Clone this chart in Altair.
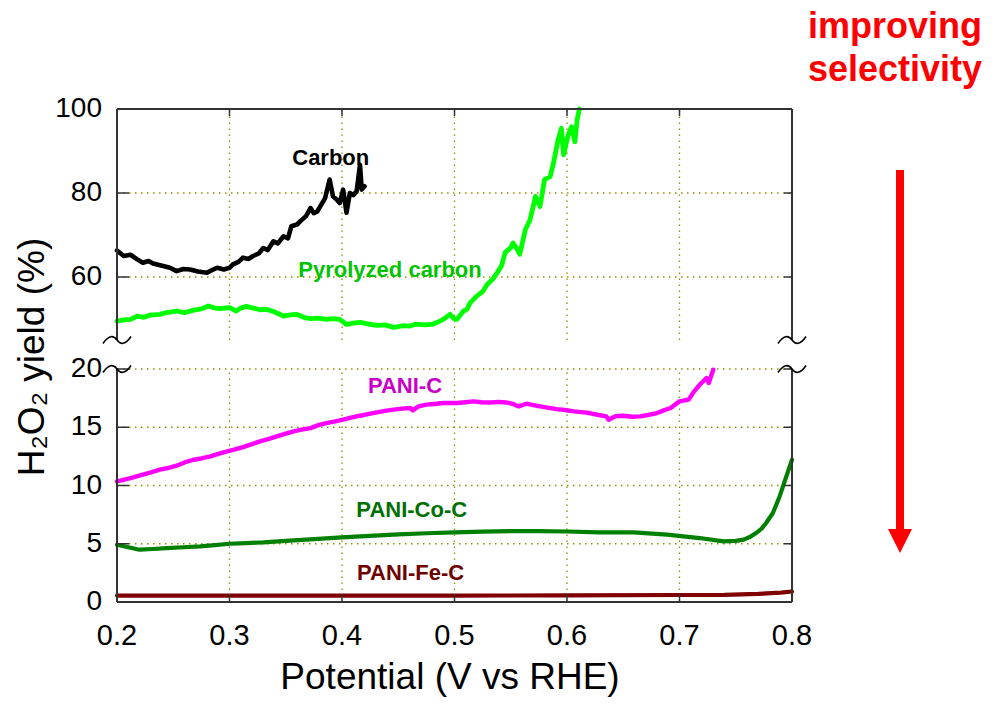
import altair as alt
import pandas as pd

# ---------------- data ----------------
carbon_x = [0.200, 0.206, 0.212, 0.218, 0.223, 0.228, 0.232, 0.241, 0.247, 0.253,
            0.259, 0.265, 0.272, 0.280, 0.284, 0.289, 0.295, 0.300, 0.303, 0.308,
            0.312, 0.317, 0.321, 0.326, 0.330, 0.334, 0.339, 0.343, 0.348, 0.352,
            0.355, 0.360, 0.363, 0.368, 0.372, 0.375, 0.378, 0.382, 0.385, 0.389,
            0.392, 0.395, 0.398, 0.401, 0.404, 0.407, 0.410, 0.413, 0.416, 0.4175, 0.420]
carbon_y = [66.3, 65.0, 65.3, 64.2, 63.4, 63.8, 63.2, 62.6, 62.2, 61.4,
            61.9, 61.8, 61.3, 61.0, 61.6, 62.2, 61.8, 62.2, 63.0, 63.6,
            64.6, 64.3, 65.0, 65.6, 66.9, 66.4, 68.5, 68.0, 69.7, 69.2,
            72.1, 72.5, 73.3, 74.5, 76.4, 75.2, 75.6, 77.4, 78.8, 83.2,
            79.2, 78.5, 77.6, 80.8, 75.3, 80.0, 79.5, 80.4, 86.7, 80.8, 81.6]

pyro_x = [0.200, 0.206, 0.212, 0.218, 0.224, 0.229, 0.238, 0.245, 0.253, 0.260,
          0.268, 0.275, 0.281, 0.287, 0.292, 0.300, 0.306, 0.310, 0.315, 0.321,
          0.327, 0.333, 0.339, 0.344, 0.348, 0.354, 0.360, 0.366, 0.372, 0.379,
          0.386, 0.392, 0.398, 0.404, 0.410, 0.416, 0.424, 0.431, 0.438, 0.446,
          0.455, 0.460, 0.466, 0.474, 0.481, 0.487, 0.490, 0.496, 0.499, 0.502,
          0.508, 0.511, 0.514, 0.520, 0.525, 0.529, 0.534, 0.538, 0.542, 0.545,
          0.550, 0.552, 0.556, 0.558, 0.563, 0.567, 0.570, 0.572, 0.576, 0.580,
          0.585, 0.588, 0.592, 0.595, 0.597, 0.601, 0.604, 0.607, 0.609, 0.611]
pyro_y = [49.5, 49.8, 49.9, 50.7, 50.4, 50.9, 51.1, 51.6, 51.9, 51.5,
          52.1, 52.4, 53.1, 52.6, 52.5, 52.7, 51.9, 52.6, 53.0, 52.6,
          52.2, 52.3, 51.8, 51.2, 50.7, 51.0, 51.1, 50.4, 50.1, 50.2,
          49.9, 50.1, 49.9, 48.7, 49.0, 49.2, 48.8, 48.5, 48.6, 48.0,
          48.4, 48.3, 48.8, 48.6, 48.8, 49.5, 49.9, 51.1, 50.2, 49.9,
          51.9, 52.3, 53.9, 55.5, 56.5, 58.2, 59.5, 61.0, 62.8, 65.8,
          67.0, 68.1, 66.5, 65.4, 71.3, 73.5, 76.8, 79.2, 76.8, 83.2,
          83.9, 87.1, 92.6, 95.4, 89.1, 93.8, 95.8, 92.2, 97.4, 100.0]

panic_x = [0.200, 0.212, 0.223, 0.231, 0.238, 0.245, 0.253, 0.260, 0.268, 0.275,
           0.283, 0.290, 0.298, 0.305, 0.312, 0.320, 0.327, 0.335, 0.342, 0.350,
           0.357, 0.364, 0.372, 0.379, 0.386, 0.394, 0.401, 0.408, 0.416, 0.423,
           0.431, 0.438, 0.446, 0.453, 0.4605, 0.463, 0.468, 0.475, 0.482, 0.490,
           0.502, 0.510, 0.517, 0.524, 0.532, 0.539, 0.546, 0.552, 0.557, 0.564,
           0.570, 0.576, 0.584, 0.591, 0.598, 0.606, 0.613, 0.620, 0.628, 0.635,
           0.637, 0.643, 0.650, 0.658, 0.665, 0.672, 0.680, 0.686, 0.692, 0.700,
           0.708, 0.713, 0.718, 0.724, 0.726, 0.730]
panic_y = [10.35, 10.64, 10.93, 11.15, 11.36, 11.50, 11.70, 11.98, 12.21, 12.32,
           12.50, 12.72, 12.93, 13.10, 13.30, 13.55, 13.79, 14.00, 14.22, 14.45,
           14.64, 14.80, 14.93, 15.18, 15.36, 15.50, 15.65, 15.82, 15.99, 16.12,
           16.28, 16.40, 16.51, 16.60, 16.65, 16.45, 16.80, 16.94, 17.00, 17.08,
           17.08, 17.15, 17.22, 17.15, 17.13, 17.18, 17.13, 17.00, 16.79, 17.02,
           16.90, 16.79, 16.66, 16.56, 16.48, 16.36, 16.30, 16.22, 16.05, 15.93,
           15.65, 15.95, 15.99, 15.90, 15.93, 16.05, 16.22, 16.45, 16.65, 17.22,
           17.37, 18.08, 18.65, 19.23, 18.80, 19.94]

panico_x = [0.200, 0.210, 0.220, 0.232, 0.244, 0.259, 0.274, 0.287, 0.300, 0.315,
            0.330, 0.350, 0.375, 0.400, 0.425, 0.450, 0.475, 0.500, 0.525, 0.550,
            0.575, 0.600, 0.629, 0.659, 0.689, 0.718, 0.739, 0.750, 0.757, 0.763,
            0.768, 0.773, 0.777, 0.783, 0.789, 0.794, 0.800]
panico_y = [4.92, 4.70, 4.49, 4.55, 4.63, 4.70, 4.77, 4.88, 5.00, 5.06,
            5.12, 5.25, 5.40, 5.55, 5.68, 5.80, 5.90, 5.98, 6.04, 6.08,
            6.08, 6.05, 5.97, 5.97, 5.78, 5.49, 5.20, 5.25, 5.35, 5.60,
            5.92, 6.30, 6.78, 7.64, 9.06, 10.50, 12.21]

panife_x = [0.200, 0.300, 0.400, 0.500, 0.600, 0.700, 0.740, 0.770, 0.790, 0.800]
panife_y = [0.55, 0.55, 0.55, 0.55, 0.57, 0.60, 0.62, 0.70, 0.80, 0.90]

series_names = ["Carbon", "Pyrolyzed carbon", "PANI-C", "PANI-Co-C", "PANI-Fe-C"]
series_colors = ["#000000", "#00ff00", "#ff00ff", "#008000", "#800000"]
series_widths = [4.6, 4.8, 4.4, 4.2, 4.2]

label_text = ["Carbon", "Pyrolyzed carbon", "PANI-C", "PANI-Co-C", "PANI-Fe-C"]
label_x = [0.390, 0.4427, 0.456, 0.462, 0.461]
label_y = [88.4, 61.6, 18.5, 7.9, 2.5]
label_color = ["#000000", "#00c400", "#c800c8", "#007000", "#6e0000"]

x_ticks = [0.2, 0.3, 0.4, 0.5, 0.6, 0.7, 0.8]
x_tick_labels = ["0.2", "0.3", "0.4", "0.5", "0.6", "0.7", "0.8"]
y_ticks = [0, 5, 10, 15, 20, 60, 80, 100]
y_tick_labels = ["0", "5", "10", "15", "20", "60", "80", "100"]
x_grid = [0.3, 0.4, 0.5, 0.6, 0.7]
y_grid = [5, 10, 15, 20, 60, 80]
panel_lo = [45, 0]
panel_hi = [100, 20]
y_breaks = [45, 20]
x_edges = [0.2, 0.8]

x_title = "Potential (V vs RHE)"
y_title = "H₂O₂ yield (%)"
annotation = ["improving", "selectivity"]

# ---------------- tables ----------------
rows = []
for name, wdt, xs, ys in zip(series_names, series_widths,
                             [carbon_x, pyro_x, panic_x, panico_x, panife_x],
                             [carbon_y, pyro_y, panic_y, panico_y, panife_y]):
    for a, b in zip(xs, ys):
        rows.append({"x": a, "y": b, "series": name, "w": wdt})
df = pd.DataFrame(rows)

FONT = "Liberation Sans"
W, H = 675, 493
xscale = alt.Scale(domain=[0.2, 0.8], nice=False, zero=False)
yscale = alt.Scale(domain=[0, 20, 45, 100], range=[493, 260, 231, 0], nice=False, zero=False)

GRID = "#8f8f00"
FRAME = "#333333"
one = pd.DataFrame({"a": [0]})

# grid lines
hgrid = alt.Chart(pd.DataFrame({"v": y_grid})).mark_rule(
    color=GRID, strokeDash=[1.5, 4.5], strokeWidth=1.3
).encode(y=alt.Y("v:Q", scale=yscale, axis=None), x=alt.value(0), x2=alt.value(W))

vg_rows = [{"x": gx, "y0": lo, "y1": hi} for gx in x_grid for lo, hi in zip(panel_lo, panel_hi)]
vgrid = alt.Chart(pd.DataFrame(vg_rows)).mark_rule(
    color=GRID, strokeDash=[1.5, 4.5], strokeWidth=1.3
).encode(x=alt.X("x:Q", scale=xscale, axis=None),
         y=alt.Y("y0:Q", scale=yscale, axis=None), y2="y1:Q")

# data lines
lines = alt.Chart(df).mark_line(strokeJoin="round", strokeCap="round").encode(
    x=alt.X("x:Q", scale=xscale, axis=None),
    y=alt.Y("y:Q", scale=yscale, axis=None),
    color=alt.Color("series:N", scale=alt.Scale(domain=series_names, range=series_colors),
                    legend=None),
    strokeWidth=alt.StrokeWidth("w:Q", scale=None),
    detail="series:N",
)

# frame
side_rows = [{"x": ex, "y0": lo, "y1": hi} for ex in x_edges for lo, hi in zip(panel_lo, panel_hi)]
sides = alt.Chart(pd.DataFrame(side_rows)).mark_rule(color=FRAME, strokeWidth=2).encode(
    x=alt.X("x:Q", scale=xscale, axis=None),
    y=alt.Y("y0:Q", scale=yscale, axis=None), y2="y1:Q")
tb = alt.Chart(pd.DataFrame({"y": [100, 0], "x0": [0.2, 0.2], "x1": [0.8, 0.8]})).mark_rule(
    color=FRAME, strokeWidth=2).encode(
    y=alt.Y("y:Q", scale=yscale, axis=None),
    x=alt.X("x0:Q", scale=xscale, axis=None), x2="x1:Q")

# inward ticks
ytick_df = pd.DataFrame({"v": y_ticks, "t": y_tick_labels})
lticks = alt.Chart(ytick_df).mark_rule(color=FRAME, strokeWidth=1.5).encode(
    y=alt.Y("v:Q", scale=yscale, axis=None), x=alt.value(0), x2=alt.value(12))
rticks = alt.Chart(ytick_df).mark_rule(color=FRAME, strokeWidth=1.5).encode(
    y=alt.Y("v:Q", scale=yscale, axis=None), x=alt.value(W - 8), x2=alt.value(W))
xgrid_df = pd.DataFrame({"v": x_grid})
bticks = alt.Chart(xgrid_df).mark_rule(color=FRAME, strokeWidth=1.5).encode(
    x=alt.X("v:Q", scale=xscale, axis=None), y=alt.value(H - 8), y2=alt.value(H))
tticks = alt.Chart(xgrid_df).mark_rule(color=FRAME, strokeWidth=1.5).encode(
    x=alt.X("v:Q", scale=xscale, axis=None), y=alt.value(0), y2=alt.value(7))

# tick labels and axis titles
ylabels = alt.Chart(ytick_df).mark_text(
    font=FONT, fontSize=28, align="right", baseline="middle", color="black"
).encode(y=alt.Y("v:Q", scale=yscale, axis=None), x=alt.value(-15), text="t:N")
xtick_df = pd.DataFrame({"v": x_ticks, "t": x_tick_labels})
xlabels = alt.Chart(xtick_df).mark_text(
    font=FONT, fontSize=29, align="center", baseline="alphabetic", color="black"
).encode(x=alt.X("v:Q", scale=xscale, axis=None), y=alt.value(536), text="t:N")
xtitle = alt.Chart(one).mark_text(
    text=x_title, font=FONT, fontSize=37, align="center", baseline="alphabetic", color="black"
).encode(x=alt.value(333), y=alt.value(580))
ytitle = alt.Chart(one).mark_text(
    text=y_title, font=FONT, fontSize=37, align="center", baseline="alphabetic",
    angle=270, color="black"
).encode(x=alt.value(-73), y=alt.value(248))

# axis-break marks
brk_df = pd.DataFrame([{"x": ex, "y": by} for ex in x_edges for by in y_breaks])
breaks = alt.Chart(brk_df).mark_point(
    shape="M -1 0.25 C -0.6 -0.35 -0.25 -0.35 0 0 C 0.25 0.35 0.6 0.35 1 -0.25",
    filled=False, size=784, strokeWidth=1.6, color="black", opacity=1,
).encode(x=alt.X("x:Q", scale=xscale, axis=None), y=alt.Y("y:Q", scale=yscale, axis=None))

# series labels
lab_df = pd.DataFrame({"t": label_text, "x": label_x, "y": label_y, "c": label_color})
labels = alt.Chart(lab_df).mark_text(font=FONT, fontSize=22, fontWeight="bold").encode(
    x=alt.X("x:Q", scale=xscale, axis=None), y=alt.Y("y:Q", scale=yscale, axis=None),
    text="t:N", color=alt.Color("c:N", scale=None))

# annotation + arrow
note = alt.Chart(one).mark_text(
    text=annotation, font=FONT, fontSize=36, fontWeight="bold", color="#ff0000",
    lineHeight=43, baseline="alphabetic", align="center"
).encode(x=alt.value(778), y=alt.value(-71))
shaft = alt.Chart(one).mark_rule(color="#ff0000", strokeWidth=8).encode(
    x=alt.value(783), y=alt.value(61), y2=alt.value(425))
head = alt.Chart(one).mark_point(
    shape="M -1 -1 L 1 -1 L 0 1 Z", filled=True, size=576, color="#ff0000", opacity=1
).encode(x=alt.value(783), y=alt.value(432))

chart = alt.layer(
    hgrid, vgrid, lines, sides, tb, lticks, rticks, bticks, tticks, breaks,
    ylabels, xlabels, xtitle, ytitle, labels, note, shaft, head
).properties(
    width=W, height=H,
    autosize=alt.AutoSizeParams(type="none"),
    padding={"left": 117, "top": 109, "right": 212, "bottom": 110},
    background="white",
).configure_view(stroke=None)

chart.save("out.html", embed_options={"renderer": "svg", "actions": False})
